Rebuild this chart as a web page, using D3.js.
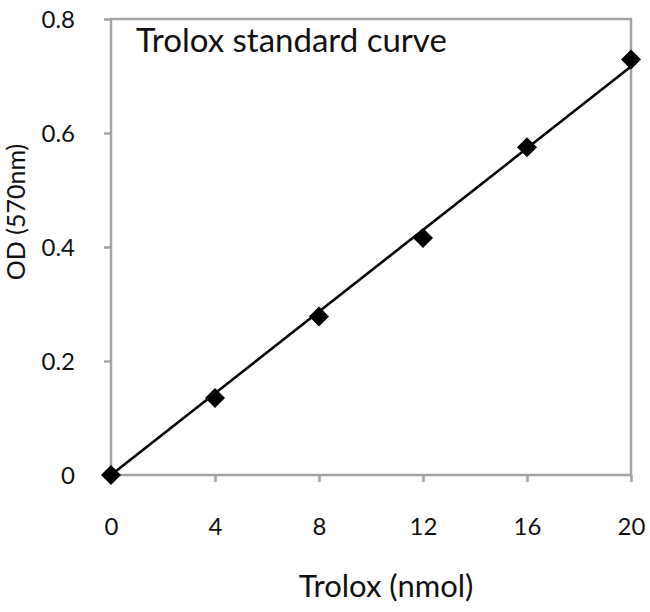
<!DOCTYPE html>
<html><head><meta charset="utf-8">
<script src="https://cdn.jsdelivr.net/npm/d3@7"></script>
<style>body{margin:0;background:#fff}svg{display:block}text{font-family:Lato,"Open Sans",sans-serif;fill:#111}</style>
</head><body><svg id="c" width="650" height="612"></svg>
<script>
const trolox = [0, 4, 8, 12, 16, 20];
const od = [0, 0.135, 0.278, 0.416, 0.575, 0.729];
const xTicks = [0, 4, 8, 12, 16, 20];
const yTicks = [0, 0.2, 0.4, 0.6, 0.8];
const yTickLabels = ["0", "0.2", "0.4", "0.6", "0.8"];

const svg = d3.select("#c");
const L = 111, R = 631, T = 19, B = 475;
const x = d3.scaleLinear().domain([0, 20]).range([L, R]);
const y = d3.scaleLinear().domain([0, 0.8]).range([B, T]);
const gray = "#a3a3a3";

// frame
svg.append("rect").attr("x", L).attr("y", T).attr("width", R - L).attr("height", B - T)
  .attr("fill", "none").attr("stroke", gray).attr("stroke-width", 2.5);

const xa = svg.append("g").attr("transform", `translate(0,${B})`)
  .call(d3.axisBottom(x).tickValues(xTicks).tickSize(7).tickPadding(36).tickFormat(d3.format("d")));
const ya = svg.append("g").attr("transform", `translate(${L},0)`)
  .call(d3.axisLeft(y).tickValues(yTicks).tickSize(7).tickPadding(29).tickFormat((d, i) => yTickLabels[i]));
[xa, ya].forEach(a => {
  a.attr("font-size", 24).attr("font-family", "Lato, 'Open Sans', sans-serif");
  a.select(".domain").remove();
  a.selectAll("line").attr("stroke", gray).attr("stroke-width", 2.5);
  a.selectAll("text").style("font-size", "24px").attr("fill", "#111");
});
ya.selectAll("text").attr("dy", "0.36em");

// trendline (least squares through origin)
const slope = d3.sum(trolox, (v, i) => v * od[i]) / d3.sum(trolox, v => v * v);
const x0 = d3.min(trolox), x1 = d3.max(trolox);
svg.append("line").attr("x1", x(x0)).attr("y1", y(slope * x0)).attr("x2", x(x1)).attr("y2", y(slope * x1))
  .attr("stroke", "#000").attr("stroke-width", 2.6);

// markers
svg.selectAll("path.pt").data(trolox).join("path").attr("class", "pt")
  .attr("d", d3.symbol(d3.symbolSquare, 200))
  .attr("transform", (d, i) => `translate(${x(d)},${y(od[i])}) rotate(45)`)
  .attr("fill", "#000");

svg.append("text").attr("x", 136).attr("y", 52).style("font-size", "33px").text("Trolox standard curve");
svg.append("text").attr("transform", "translate(25,212) rotate(-90)").attr("text-anchor", "middle")
  .style("font-size", "25px").text("OD (570nm)");
svg.append("text").attr("x", 386).attr("y", 597).attr("text-anchor", "middle").style("font-size", "31px").text("Trolox (nmol)");
</script></body></html>
